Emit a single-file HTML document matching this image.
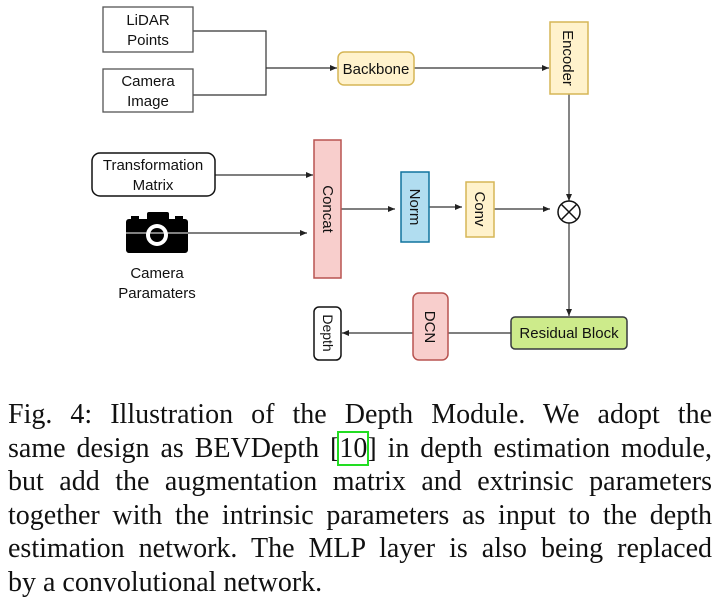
<!DOCTYPE html>
<html><head><meta charset="utf-8"><style>
body{margin:0;width:723px;height:612px;background:#fff;position:relative;overflow:hidden}
svg{position:absolute;left:0;top:0}
.cap{position:absolute;left:8px;width:704px;font-family:"Liberation Serif",serif;font-size:28px;line-height:33.5px;color:#111;text-align:justify;text-align-last:justify;white-space:nowrap}
.ref{outline:2px solid #22dd22;outline-offset:0}
</style></head><body>
<svg width="723" height="390" font-family="Liberation Sans, sans-serif" font-size="15" fill="#111">
<defs><marker id="a" markerWidth="8" markerHeight="8" refX="7" refY="4" orient="auto" markerUnits="userSpaceOnUse"><path d="M0,1 L7,4 L0,7 z" fill="#222"/></marker></defs>
<g stroke="#333" stroke-width="1.2" fill="none">
<path d="M193,31 H266 V95 H193"/>
<path d="M266,68 H337" marker-end="url(#a)"/>
<path d="M414,68 H549" marker-end="url(#a)"/>
<path d="M569,94 V201" marker-end="url(#a)"/>
<path d="M569,223 V316" marker-end="url(#a)"/>
<path d="M215,175 H313" marker-end="url(#a)"/>
<path d="M188,233 H307" marker-end="url(#a)"/>
<path d="M341,209 H395" marker-end="url(#a)"/>
<path d="M429,207 H462" marker-end="url(#a)"/>
<path d="M494,209 H550" marker-end="url(#a)"/>
<path d="M511,333 H448"/>
<path d="M413,333 H342" marker-end="url(#a)"/>
</g>
<rect x="103" y="7" width="90" height="45" fill="#fff" stroke="#555" stroke-width="1.3"/>
<text x="148" y="25" text-anchor="middle">LiDAR</text><text x="148" y="45" text-anchor="middle">Points</text>
<rect x="103" y="69" width="90" height="43" fill="#fff" stroke="#555" stroke-width="1.3"/>
<text x="148" y="86" text-anchor="middle">Camera</text><text x="148" y="106" text-anchor="middle">Image</text>
<rect x="338" y="52" width="76" height="33" rx="6" fill="#fff2cc" stroke="#d6b656" stroke-width="1.5"/>
<text x="376" y="74" text-anchor="middle">Backbone</text>
<rect x="550" y="22" width="38" height="72" fill="#fff2cc" stroke="#d6b656" stroke-width="1.5"/>
<text transform="translate(563,58) rotate(90)" text-anchor="middle">Encoder</text>
<rect x="92" y="153" width="123" height="43" rx="8" fill="#fff" stroke="#111" stroke-width="1.5"/>
<text x="153" y="170" text-anchor="middle">Transformation</text><text x="153" y="190" text-anchor="middle">Matrix</text>
<g fill="#000">
<rect x="126" y="219" width="62" height="34" rx="3"/>
<rect x="147" y="212" width="22" height="10" rx="2"/>
<rect x="131" y="216" width="8" height="5"/><rect x="175" y="216" width="8" height="5"/>
<circle cx="157" cy="235" r="15"/>
</g>
<circle cx="157" cy="235" r="11" fill="#fff"/><circle cx="157" cy="235" r="7" fill="#000"/>
<line x1="126" y1="233" x2="188" y2="233" stroke="#fff" stroke-width="1"/>
<text x="157" y="278" text-anchor="middle">Camera</text><text x="157" y="298" text-anchor="middle">Paramaters</text>
<rect x="314" y="140" width="27" height="138" fill="#f8cecc" stroke="#b85450" stroke-width="1.5"/>
<text transform="translate(323,209) rotate(90)" text-anchor="middle">Concat</text>
<rect x="401" y="172" width="28" height="70" fill="#b1ddf0" stroke="#10739e" stroke-width="1.5"/>
<text transform="translate(410,207) rotate(90)" text-anchor="middle">Norm</text>
<rect x="466" y="182" width="28" height="55" fill="#fff2cc" stroke="#d6b656" stroke-width="1.5"/>
<text transform="translate(475,209) rotate(90)" text-anchor="middle">Conv</text>
<circle cx="569" cy="212" r="11" fill="#fff" stroke="#111" stroke-width="1.5"/>
<path d="M561,204 L577,220 M577,204 L561,220" stroke="#111" stroke-width="1.5"/>
<rect x="511" y="317" width="116" height="32" rx="4" fill="#cdeb8b" stroke="#36393d" stroke-width="1.5"/>
<text x="569" y="338" text-anchor="middle">Residual Block</text>
<rect x="413" y="293" width="35" height="67" rx="6" fill="#f8cecc" stroke="#b85450" stroke-width="1.5"/>
<text transform="translate(425,327) rotate(90)" text-anchor="middle">DCN</text>
<rect x="314" y="307" width="27" height="53" rx="5" fill="#fff" stroke="#111" stroke-width="1.5"/>
<text transform="translate(323,333) rotate(90)" text-anchor="middle" font-size="14">Depth</text>
</svg>
<div class="cap" style="top:398px">Fig. 4: Illustration of the Depth Module. We adopt the</div>
<div class="cap" style="top:431.5px">same design as BEVDepth [<span class="ref">10</span>] in depth estimation module,</div>
<div class="cap" style="top:465px">but add the augmentation matrix and extrinsic parameters</div>
<div class="cap" style="top:498.5px">together with the intrinsic parameters as input to the depth</div>
<div class="cap" style="top:532px">estimation network. The MLP layer is also being replaced</div>
<div class="cap" style="top:565.5px;text-align-last:left">by a convolutional network.</div>
</body></html>
